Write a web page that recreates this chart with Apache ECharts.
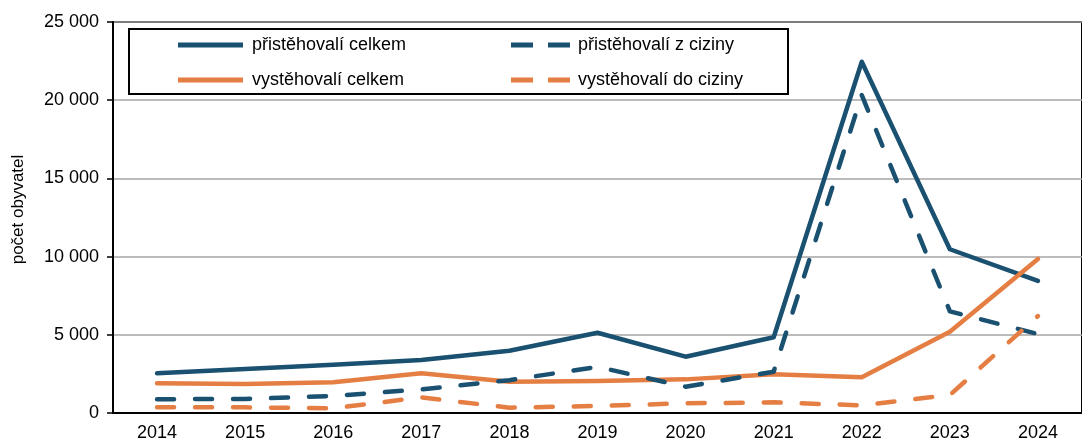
<!DOCTYPE html>
<html>
<head>
<meta charset="utf-8">
<script src="https://cdn.jsdelivr.net/npm/echarts@6/dist/echarts.min.js"></script>
<style>
  html, body { margin: 0; padding: 0; background: #fff; }
  #chart { width: 1082px; height: 443px; }
</style>
</head>
<body>
<div id="chart"></div>
<script>
var years = ['2014', '2015', '2016', '2017', '2018', '2019', '2020', '2021', '2022', '2023', '2024'];
// přistěhovalí celkem
var prisCelkem = [2540, 2810, 3080, 3390, 3980, 5130, 3600, 4840, 22460, 10470, 8450];
// přistěhovalí z ciziny
var prisCizina = [880, 900, 1090, 1510, 2100, 2950, 1680, 2640, 20330, 6500, 5050];
// vystěhovalí celkem
var vysCelkem = [1900, 1850, 1960, 2540, 2000, 2050, 2150, 2470, 2280, 5200, 9850];
// vystěhovalí do ciziny
var vysCizina = [360, 360, 300, 1000, 340, 450, 620, 680, 490, 1150, 6200];

var blue = '#1a5070';
var orange = '#e57e43';
var font = 'Liberation Sans, Arial, sans-serif';
var solidIcon = 'path://M0,0h65v5h-65z';
var dashIcon = 'path://M0,0h22v5h-22z M37,0h22v5h-22z';

function fmt(v) {
    return String(v).replace(/\B(?=(\d{3})+(?!\d))/g, ' ');
}

function makeLine(name, values, color, dashed) {
    return {
        name: name,
        type: 'line',
        data: values,
        symbol: 'none',
        smooth: false,
        lineStyle: {
            color: color,
            width: 4.5,
            type: dashed ? [17, 21] : 'solid',
            cap: 'round',
            join: 'round'
        },
        itemStyle: { color: color },
        z: dashed ? 3 : 2
    };
}

var legendText = { fontSize: 18, fontFamily: font, color: '#000', lineHeight: 22 };

var chart = echarts.init(document.getElementById('chart'));
var option = {
    animation: false,
    textStyle: { fontFamily: font, color: '#000' },
    grid: {
        left: 113,
        right: -9,
        top: 22,
        bottom: 30,
        show: true,
        borderColor: '#000',
        borderWidth: 2
    },
    legend: [{
        orient: 'vertical',
        left: 178,
        top: 34,
        padding: 0,
        itemWidth: 65,
        itemHeight: 5,
        itemGap: 13,
        data: [
            { name: 'přistěhovalí celkem', icon: solidIcon },
            { name: 'vystěhovalí celkem', icon: solidIcon }
        ],
        textStyle: Object.assign({ padding: [0, 0, 0, 4] }, legendText)
    }, {
        orient: 'vertical',
        left: 511,
        top: 34,
        padding: 0,
        itemWidth: 59,
        itemHeight: 5,
        itemGap: 13,
        data: [
            { name: 'přistěhovalí z ciziny', icon: dashIcon },
            { name: 'vystěhovalí do ciziny', icon: dashIcon }
        ],
        textStyle: Object.assign({ padding: [0, 0, 0, 3] }, legendText)
    }],
    graphic: [{
        type: 'rect',
        shape: { x: 129, y: 29, width: 659, height: 65 },
        style: { fill: 'none', stroke: '#000', lineWidth: 2 },
        z: 100
    }],
    xAxis: {
        type: 'category',
        data: years,
        boundaryGap: true,
        axisLine: { lineStyle: { color: '#000', width: 2 } },
        axisTick: { show: false },
        axisLabel: { fontSize: 18, color: '#000', margin: 11, fontFamily: font }
    },
    yAxis: {
        type: 'value',
        min: 0,
        max: 25000,
        interval: 5000,
        name: 'počet obyvatel',
        nameLocation: 'middle',
        nameGap: 86,
        nameTextStyle: { fontSize: 17, color: '#000', fontFamily: font, padding: [0, 0, 0, 16] },
        axisLine: { show: true, lineStyle: { color: '#000', width: 2 } },
        axisTick: { show: true, length: 6, lineStyle: { color: '#000', width: 1.5 } },
        axisLabel: {
            fontSize: 18,
            color: '#000',
            margin: 14,
            fontFamily: font,
            formatter: fmt
        },
        splitLine: { lineStyle: { color: '#a6a6a6', width: 1.5 } }
    },
    series: [
        makeLine('přistěhovalí celkem', prisCelkem, blue, false),
        makeLine('přistěhovalí z ciziny', prisCizina, blue, true),
        makeLine('vystěhovalí celkem', vysCelkem, orange, false),
        makeLine('vystěhovalí do ciziny', vysCizina, orange, true)
    ]
};
chart.setOption(option);
</script>
</body>
</html>
